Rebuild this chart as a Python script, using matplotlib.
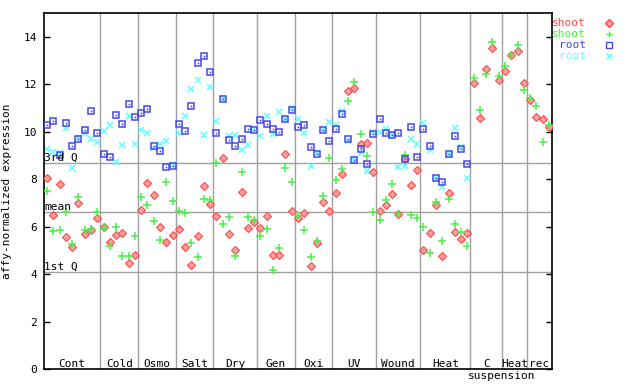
import matplotlib
matplotlib.use("Agg")
import matplotlib.pyplot as plt
import numpy as np

# Групи умов та кількість зразків у кожній
groups = ["Cont", "Cold", "Osmo", "Salt", "Dry", "Gen", "Oxi", "UV",
          "Wound", "Heat", "C", "Heat", "rec"]
group_sizes = [9, 6, 6, 6, 7, 6, 6, 7, 7, 8, 5, 4, 4]

shoot_a = [8.05, 6.48, 7.8, 5.56, 5.13, 6.99, 5.68, 5.87, 6.36,
           5.98, 5.35, 5.64, 5.73, 4.46, 4.8,
           6.7, 7.84, 7.33, 5.98, 5.35, 5.64,
           5.89, 5.13, 4.38, 5.6, 7.71, 6.95,
           6.44, 8.89, 5.68, 5.01, 7.46, 5.94, 6.19,
           5.94, 6.44, 4.8, 4.8, 9.06, 6.65,
           6.36, 6.57, 4.33, 5.3, 7.03, 6.65,
           7.41, 8.21, 11.72, 11.84, 9.48, 9.52, 8.3,
           6.65, 6.91, 7.37, 6.53, 8.85, 7.75, 8.38,
           5.01, 5.73, 6.91, 4.76, 7.41, 5.77, 5.47, 5.73,
           12.05, 10.58, 12.65, 13.53, 12.18,
           12.56, 13.24, 13.4, 12.05,
           11.34, 10.62, 10.54, 10.2]

shoot_b = [7.49, 5.81, 5.85, 6.61, 5.26, 7.24, 5.85, 5.89, 6.61,
           5.94, 5.18, 5.98, 4.76, 4.76, 5.6,
           7.24, 6.91, 6.23, 5.43, 7.88, 7.07,
           6.65, 6.57, 5.3, 4.71, 7.16, 7.12,
           8.68, 6.1, 6.4, 4.76, 8.3, 6.4, 6.27,
           5.6, 5.89, 4.16, 5.09, 8.47, 7.88,
           6.44, 5.85, 4.71, 5.39, 7.29, 8.89,
           7.97, 8.43, 11.3, 12.1, 9.9, 8.97, 6.61,
           6.27, 7.12, 7.8, 6.53, 9.02, 6.48, 6.36,
           5.98, 4.88, 7.03, 5.39, 7.16, 6.1, 5.77, 5.18,
           12.26, 10.92, 12.43, 13.78, 12.35,
           12.77, 13.24, 13.65, 11.76,
           11.42, 11.08, 9.56, 10.28]

root_a = [10.28, 10.45, 9.02, 10.37, 9.4, 9.69, 10.07, 10.87, 9.94,
          9.06, 8.93, 10.7, 10.32, 11.17, 10.62,
          10.79, 10.96, 9.4, 9.19, 8.51, 8.55,
          10.32, 10.03, 11.08, 12.9, 13.19, 12.52,
          9.94, 11.38, 9.65, 9.4, 9.69, 10.11, 10.07,
          10.49, 10.32, 10.11, 9.99, 10.54, 10.92,
          10.2, 10.28, 9.35, 9.06, 10.07, 9.61,
          10.11, 10.75, 9.69, 8.81, 9.27, 8.64, 9.9,
          10.54, 9.94, 9.86, 9.94, 8.85, 10.2, 8.93,
          10.11, 9.4, 8.05, 7.88, 9.06, 9.82, 9.27, 8.64] + [np.nan] * 13

root_b = [9.27, 9.14, 9.1, 10.16, 8.47, 9.73, 9.94, 9.69, 9.56,
          10.03, 10.28, 8.72, 9.44, 10.66, 9.48,
          10.07, 9.94, 9.31, 9.48, 9.61, 8.59,
          9.94, 10.66, 11.8, 12.18, 9.86, 11.89,
          10.45, 11.38, 9.82, 9.86, 9.23, 9.44, 10.07,
          9.82, 10.66, 9.9, 10.83, 10.54, 11.0,
          10.54, 9.94, 8.55, 9.1, 10.07, 10.41,
          10.28, 10.87, 9.61, 8.81, 9.1, 8.34, 9.99,
          9.99, 10.11, 9.86, 8.51, 8.55, 9.69, 9.48,
          10.37, 9.23, 8.05, 7.67, 9.06, 10.16, 9.35, 8.05] + [np.nan] * 13

q1, mean, q3 = 4.08, 6.61, 8.68

red, green, blue, cyan = "#ff4848", "#48f048", "#4848e8", "#60ffff"
mono = "DejaVu Sans Mono"

n = sum(group_sizes)
x = np.arange(n) + 0.5
bounds = np.cumsum(group_sizes)

fig = plt.figure(figsize=(6.4, 3.84), dpi=100)
ax = fig.add_axes([44 / 640, 15 / 384, 508 / 640, 356 / 384])

# Лінії квартилів та роздільники груп
for v in (q1, mean, q3):
    ax.axhline(v, color="#a0a0a0", lw=1, zorder=1)
for b in bounds[:-1]:
    ax.axvline(b, color="#a0a0a0", lw=1, zorder=1)

ax.plot(x, shoot_a, "D", ms=3.6, mfc="#ffa0a0", mec=red, mew=0.8, ls="none", zorder=3)
ax.plot(x, shoot_b, "+", ms=6, color=green, mew=1.1, ls="none", zorder=3)
ax.plot(x, root_a, "s", ms=5, mfc="none", mec=blue, mew=1.1, ls="none", zorder=3)
ax.plot(x, root_a, "s", ms=1.2, color=blue, mew=0, ls="none", zorder=3)
ax.plot(x, root_b, "x", ms=5, color=cyan, mew=1.1, ls="none", zorder=2)

ax.set_xlim(0, n)
ax.set_ylim(0, 15)
ax.set_xticks([])
ax.set_yticks(range(0, 15, 2))
ax.tick_params(axis="y", direction="in", length=4, width=1, right=True,
               labelsize=8, pad=5)
for lab in ax.get_yticklabels():
    lab.set_family(mono)
for s in ax.spines.values():
    s.set_linewidth(1.2)

ax.set_ylabel("affy-normalized expression", family=mono, fontsize=8, labelpad=8)

# Підписи квартилів
for v, t in ((q3, "3rd Q"), (mean, "mean"), (q1, "1st Q")):
    ax.text(0.05, v + 0.02, t, family=mono, fontsize=8, va="bottom", ha="left", zorder=4)

# Підписи груп
starts = np.concatenate([[0], bounds[:-1]])
for g, s0, b in zip(groups, starts, bounds):
    ax.text((s0 + b) / 2, 0.2, g, family=mono, fontsize=8, ha="center", va="center")
ax.text(bounds[10], -0.3, "suspension", family=mono, fontsize=8, ha="center",
        va="center", clip_on=False)

# Легенда
leg = [("shoot", red, "D"), ("shoot", green, "+"), ("root", blue, "s"), ("root", cyan, "x")]
for i, (t, c, m) in enumerate(leg):
    yy = 1 - (23.3 + 11 * i - 13) / 356
    fig.text(586 / 640, 1 - (23.3 + 11 * i) / 384, t, color=c, family=mono,
             fontsize=8, ha="right", va="center")
    ax.plot([(609 - 44) / 508], [yy], m, transform=ax.transAxes, clip_on=False,
            ms=3.6 if m == "D" else 5, mfc="#ffa0a0" if m == "D" else "none",
            mec=c, mew=1.0)

fig.savefig("out.png", dpi=100)
